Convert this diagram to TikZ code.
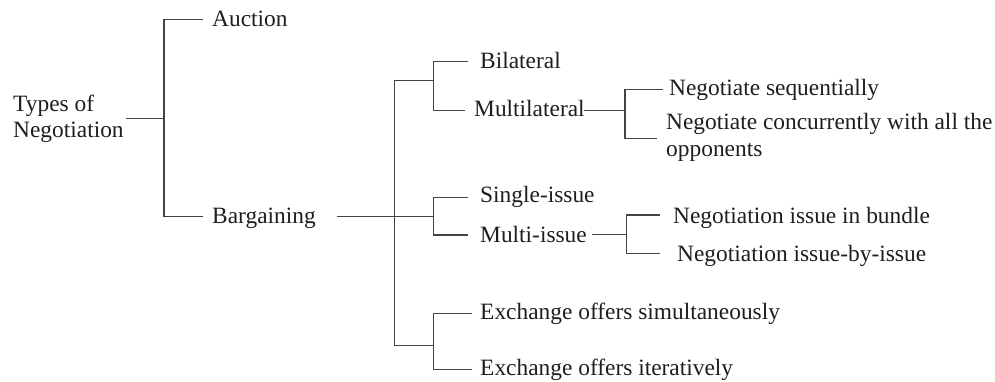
\documentclass[tikz,border=0pt]{standalone}
\usepackage{fontspec}
\setmainfont{Liberation Serif}
\definecolor{linegray}{HTML}{444444}
\definecolor{textgray}{HTML}{1E1E1E}
\begin{document}
\begin{tikzpicture}[x=1pt,y=-1pt,
  lbl/.style={anchor=base west,inner sep=0pt,text=textgray,
    font=\fontsize{23.4}{26.5}\selectfont},
  branch/.style={draw=linegray,line width=1.4pt}]
\useasboundingbox (0,0) rectangle (995,382);

% ---- labels ----
\node[lbl] (root) at (13,111.5) {\vtop{\hbox{Types of}\hbox{Negotiation}}};
\node[lbl] (auc)  at (212,26.7)  {Auction};
\node[lbl] (barg) at (212,223)   {Bargaining};
\node[lbl] (bil)  at (480,68.3)  {Bilateral};
\node[lbl] (mul)  at (474,117)   {Multilateral};
\node[lbl] (seq)  at (669,95.7)  {Negotiate sequentially};
\node[lbl] (conc) at (666,130)   {\vtop{\hbox{Negotiate concurrently with all the}\hbox{opponents}}};
\node[lbl] (sing) at (480,203)   {Single-issue};
\node[lbl] (mi)   at (480,242)   {Multi-issue};
\node[lbl] (bund) at (673,223.3) {Negotiation issue in bundle};
\node[lbl] (ibi)  at (677,261)   {Negotiation issue-by-issue};
\node[lbl] (sim)  at (480,319.3) {Exchange offers simultaneously};
\node[lbl] (iter) at (480,375)   {Exchange offers iteratively};

% ---- junction points ----
\coordinate (r0) at (126,118.3);
\coordinate (j1t) at (164,19.3);
\coordinate (j1m) at (164,118.3);
\coordinate (j1b) at (164,216.7);
\coordinate (auce) at (203,19.3);
\coordinate (barge) at (203,216.7);

\coordinate (b0) at (337,216.7);
\coordinate (j2t) at (394.3,80.7);
\coordinate (j2b) at (394.3,346);
\coordinate (j2m) at (394.3,216.7);

\coordinate (j3t) at (433.3,61.7);
\coordinate (j3m) at (433.3,80.7);
\coordinate (j3b) at (433.3,110.3);
\coordinate (bile) at (468.3,61.7);
\coordinate (mule) at (465,110.3);
\coordinate (mulr) at (583.5,110.5);

\coordinate (j4t) at (625,89.7);
\coordinate (j4m) at (625,110.5);
\coordinate (j4b) at (625,138.3);
\coordinate (seqe) at (663,89.7);
\coordinate (conce) at (657,138.3);

\coordinate (j5t) at (433.3,197.7);
\coordinate (j5m) at (433.3,216.7);
\coordinate (j5b) at (433.3,235);
\coordinate (singe) at (468.3,197.7);
\coordinate (mie) at (468.3,235);
\coordinate (mir) at (592,234.3);

\coordinate (j6t) at (626.5,215);
\coordinate (j6m) at (626.5,234.3);
\coordinate (j6b) at (626.5,253.3);
\coordinate (bunde) at (660,215);
\coordinate (ibie) at (660,253.3);

\coordinate (j7t) at (433.3,313.3);
\coordinate (j7m) at (433.3,345.5);
\coordinate (j7b) at (433.3,369.7);
\coordinate (j2bb) at (394.3,345.5);
\coordinate (sime) at (471.7,313.3);
\coordinate (itere) at (471.7,369.7);

% ---- connectors ----
\draw[branch] (r0) -- (j1m);
\draw[branch] (auce) -- (j1t) -- (j1b) -- (barge);

\draw[branch] (b0) -- (j5m);
\draw[branch] (j2t) -- (j2b);
\draw[branch] (j2t) -- (j3m);
\draw[branch] (j2bb) -- (j7m);

\draw[branch] (bile) -- (j3t) -- (j3b) -- (mule);
\draw[branch] (mulr) -- (j4m);
\draw[branch] (seqe) -- (j4t) -- (j4b) -- (conce);

\draw[branch] (singe) -- (j5t) -- (j5b) -- (mie);
\draw[branch] (mir) -- (j6m);
\draw[branch] (bunde) -- (j6t) -- (j6b) -- (ibie);

\draw[branch] (sime) -- (j7t) -- (j7b) -- (itere);
\end{tikzpicture}
\end{document}
